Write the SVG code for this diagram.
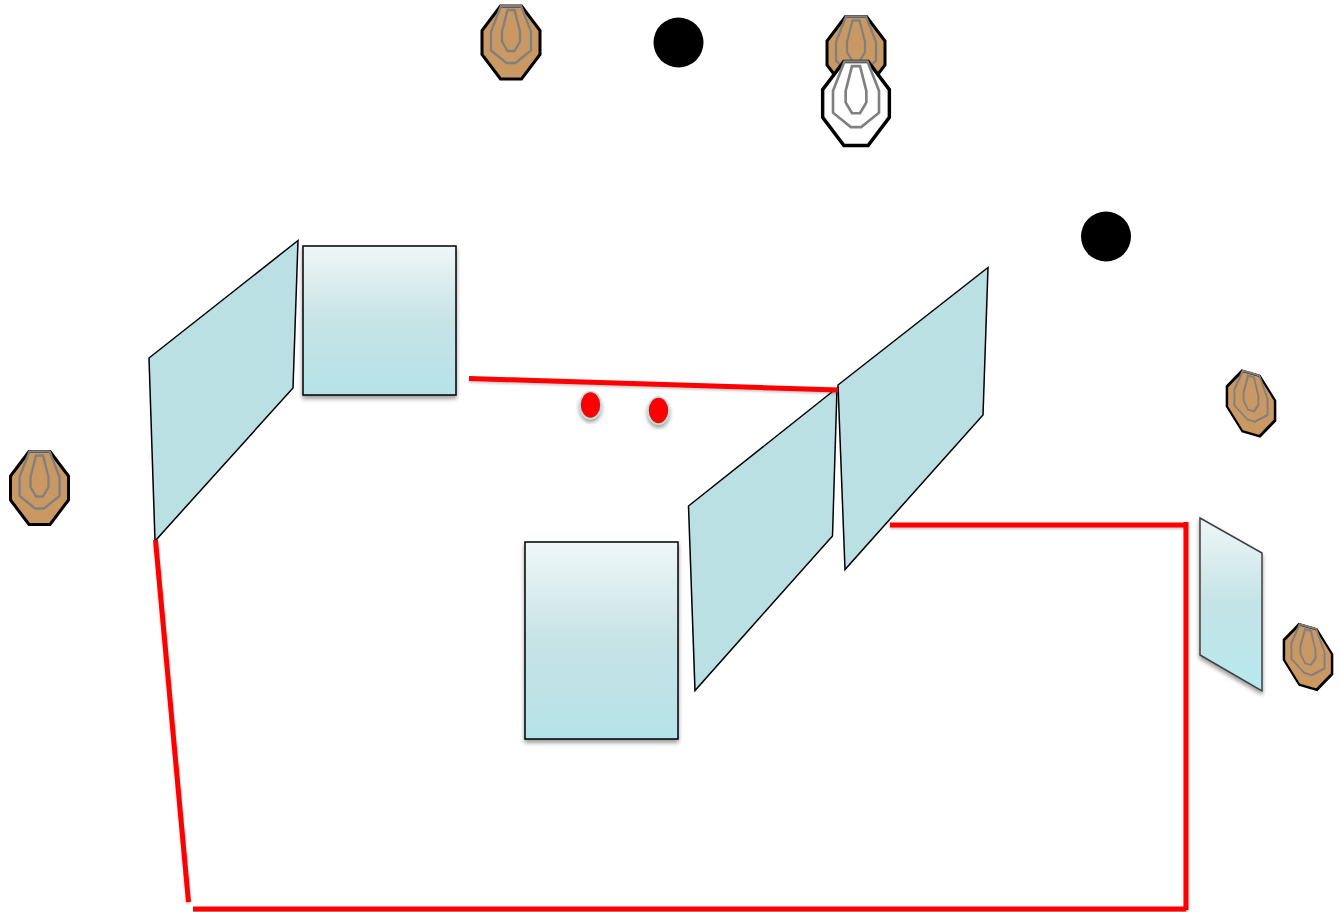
<svg xmlns="http://www.w3.org/2000/svg" width="1341" height="912" viewBox="0 0 1341 912">
<style>
.oct{stroke:#000;stroke-width:3;stroke-linejoin:miter}
.brown{fill:#c99863}
.white{fill:#fff}
.ring{fill:none;stroke:#808080;stroke-width:2.300}
.panel{fill:#bbe0e3;stroke:#000;stroke-width:1.500;stroke-linejoin:miter}
.box{fill:url(#g);stroke:#000;stroke-width:1.500;filter:url(#s)}
.wire{fill:none;stroke:#f00;stroke-width:5;filter:url(#sl)}
.dot{fill:#f00;stroke:#bbe0e3;stroke-width:1.500;filter:url(#s)}
</style>
<defs>
<linearGradient id="g" x1="0" y1="0" x2="0" y2="1"><stop offset="0" stop-color="#eff7f7"/><stop offset=".5" stop-color="#c7e3e6"/><stop offset="1" stop-color="#b5e3e8"/></linearGradient>
<linearGradient id="g2" x1="0" y1="0" x2="0" y2="1"><stop offset="0" stop-color="#eef6f6"/><stop offset=".5" stop-color="#c4e3e6"/><stop offset="1" stop-color="#b6e9ef"/></linearGradient>
<filter id="s" x="-20%" y="-20%" width="140%" height="140%"><feDropShadow dx="0" dy="3" stdDeviation="2.200" flood-color="#000" flood-opacity=".4"/></filter>
<filter id="sl" filterUnits="userSpaceOnUse" x="0" y="0" width="1341" height="912"><feDropShadow dx="0" dy="1.500" stdDeviation="1.200" flood-color="#000" flood-opacity=".25"/></filter>
<g id="rings">
<polygon class="ring" points="-10,-36.500 10,-36.500 20,-11 20,8 4.500,20.500 -4.500,20.500 -20,8 -20,-11"/>
<polygon class="ring" points="-3.500,-32.500 3.500,-32.500 9,-11 9,-1 3.500,8.500 -3.500,8.500 -9,-1 -9,-11"/>
</g>
<polygon id="o" points="-10.500,-36.500 10.500,-36.500 29,-12 29,12 10.500,36.500 -10.500,36.500 -29,12 -29,-12"/>
</defs>
<g id="target-top"><use href="#o" class="oct brown" transform="translate(511,42.500)"/><use href="#rings" transform="translate(511,42.500)"/></g>
<g id="target-top-right"><use href="#o" class="oct brown" transform="translate(856,53)"/><use href="#rings" transform="translate(856,53)"/></g>
<g id="target-white"><use href="#o" class="oct white" transform="translate(856,103.500) scale(1.150)"/><use href="#rings" transform="translate(856,103.500) scale(1.150)"/></g>
<g id="target-left"><use href="#o" class="oct brown" transform="translate(39.500,488)"/><use href="#rings" transform="translate(39.500,488)"/></g>
<g id="target-right"><use href="#o" class="oct brown" transform="matrix(.83,.24,0,.83,1251,403.500)"/><use href="#rings" transform="matrix(.83,.24,0,.83,1251,403.500)"/></g>
<g id="target-bottom-right"><use href="#o" class="oct brown" transform="matrix(.83,.24,0,.83,1308,657)"/><use href="#rings" transform="matrix(.83,.24,0,.83,1308,657)"/></g>
<g id="steel-1"><circle cx="678.500" cy="42.500" r="25"/></g>
<g id="steel-2"><circle cx="1106" cy="236.500" r="25"/></g>
<g id="wall-left"><polygon class="panel" points="149,358 298,240.500 293,388 155,541"/></g>
<g id="box-top"><rect class="box" x="303" y="246" width="153" height="149"/></g>
<g id="box-bottom"><rect class="box" x="525" y="542" width="153" height="197"/></g>
<g id="wall-mid"><polygon class="panel" points="688.500,506 837,388 832.500,536 695,690.500"/></g>
<g id="wall-right"><polygon class="panel" points="838,385 988,267.500 983,415 845,569.500"/></g>
<g id="wall-far"><polygon points="1200,518 1262,553 1262,691 1200,655" fill="url(#g2)" stroke="#404040" stroke-width="1.500" filter="url(#s)"/></g>
<g id="connectors">
<path class="wire" d="M469,378.500L838,390"/>
<path class="wire" d="M890,525H1186"/>
<path class="wire" d="M1186,522V910"/>
<path class="wire" d="M1186,909H193"/>
<path class="wire" d="M155.500,540L188.500,902"/>
</g>
<g id="dot-1"><ellipse class="dot" cx="590.500" cy="405" rx="10.500" ry="13.500"/></g>
<g id="dot-2"><ellipse class="dot" cx="658.500" cy="410.500" rx="10.500" ry="13.500"/></g>
</svg>
